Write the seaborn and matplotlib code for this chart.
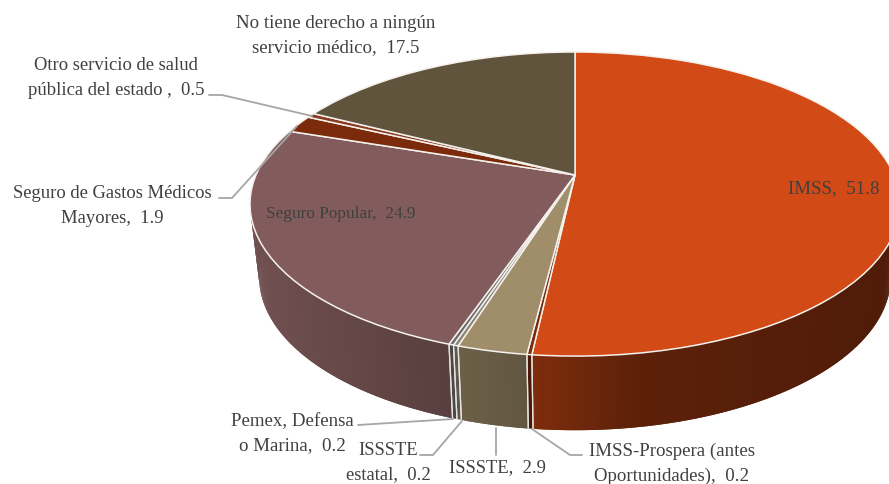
"""
Derechohabiencia por institucion, 3D pie as drawn by Excel.
Pie wedges come from ax.pie, a perspective transform tilts them, walls hang below.
"""

import numpy as np
import seaborn as sns
import matplotlib.pyplot as plt
from matplotlib.transforms import Transform
from matplotlib.colors import to_rgb

names = ['IMSS', 'IMSS-Prospera (antes\nOportunidades)', 'ISSSTE', 'ISSSTE\nestatal', 'Pemex, Defensa\no Marina',
         'Seguro Popular', 'Seguro de Gastos Médicos\nMayores', 'Otro servicio de salud\npública del estado ',
         'No tiene derecho a ningún\nservicio médico']
values = [51.8, 0.2, 2.9, 0.2, 0.2, 24.9, 1.9, 0.5, 17.5]
colors = ['#D24A15', '#7B2A0B', '#A08E6B', '#8C8178', '#6E6A6A', '#825C5C', '#7B2A0B', '#8A3A20', '#60543C']

# label centres, pixels
label_pos = [(834, 189), (672, 464), (497, 468), (388, 463), (292, 434), (341, 214), (112, 206), (116, 78), (336, 36)]
label_size = [13.6, 13.6, 13.4, 13.4, 13.6, 12.4, 13.4, 13.4, 13.6]

leaders = [[(209, 96), (222, 96), (312, 117)],
           [(219, 199), (232, 199), (297, 127)],
           [(358, 426), (453, 420)],
           [(420, 456), (433, 456), (462, 422)],
           [(496, 429), (496, 456)],
           [(532, 430), (570, 456), (582, 456)]]


class Tilt(Transform):
    # unit circle to the perspective ellipse, apex at (cx, cy)
    input_dims = 2
    output_dims = 2

    def __init__(self, cx, cy, rx, ry, k=0.191):
        super().__init__()
        self.cx, self.cy, self.rx, self.ry, self.k = cx, cy, rx, ry, k

    def transform_non_affine(self, values):
        pts = np.asarray(values, dtype=float)
        w = 1 + self.k * pts[:, 1]
        return np.column_stack([self.cx + self.rx * pts[:, 0] / w, self.cy - self.ry * pts[:, 1] / w])


top = Tilt(575, 176, 319, 146.5)
bottom = Tilt(575, 249, 310, 147.4)

sns.set_theme(style='white')
plt.rcParams['font.family'] = ['Liberation Serif', 'DejaVu Serif']

fig = plt.figure(figsize=(8.89, 4.85), dpi=100)
ax = fig.add_axes([0, 0, 1, 1])

wedges, _ = ax.pie(values, colors=colors, startangle=90, counterclock=False,
                   wedgeprops=dict(edgecolor='#F4F1EC', linewidth=1.1, zorder=3))
ax.set_aspect('auto')
ax.set_xlim(0, 889)
ax.set_ylim(485, 0)
ax.axis('off')

for w in wedges:
    w.set_transform(top + ax.transData)

# wall: dark towards the right, lighter on the far left
shade_x = [250, 450, 535, 640, 889]
shade_f = [0.87, 0.68, 0.60, 0.44, 0.38]
for w, c in zip(wedges, colors):
    th = np.radians(np.linspace(w.theta1, w.theta2, max(2, int(abs(w.theta2 - w.theta1) * 2) + 1)))
    rim = np.column_stack([np.cos(th), np.sin(th)])
    rim = rim[rim[:, 1] < 0.1]
    if len(rim) < 2:
        continue
    up = top.transform_non_affine(rim)
    down = bottom.transform_non_affine(rim)
    for i in range(len(rim) - 1):
        # each strip runs one step past the next, so no seams show
        j = min(i + 2, len(rim) - 1)
        f = np.interp((up[i, 0] + up[i + 1, 0]) / 2, shade_x, shade_f)
        col = tuple(np.array(to_rgb(c)) * f)
        ax.fill(np.r_[up[i:j + 1, 0], down[i:j + 1, 0][::-1]], np.r_[up[i:j + 1, 1], down[i:j + 1, 1][::-1]],
                facecolor=col, edgecolor='none', linewidth=0, zorder=1)
    # slice borders down the wall
    for j in (0, -1):
        ax.plot([up[j, 0], down[j, 0]], [up[j, 1], down[j, 1]], color='#E8E4DE', lw=0.9, zorder=2)

for pts in leaders:
    ax.plot(*zip(*pts), color='#A6A6A6', lw=1.3, zorder=4, solid_joinstyle='miter')

for name, val, (x, y), size in zip(names, values, label_pos, label_size):
    ax.text(x, y, f'{name},  {val}', ha='center', va='center', ma='center', fontsize=size,
            color='#404040', linespacing=1.55, zorder=5)

fig.savefig('out.png', dpi=100)
